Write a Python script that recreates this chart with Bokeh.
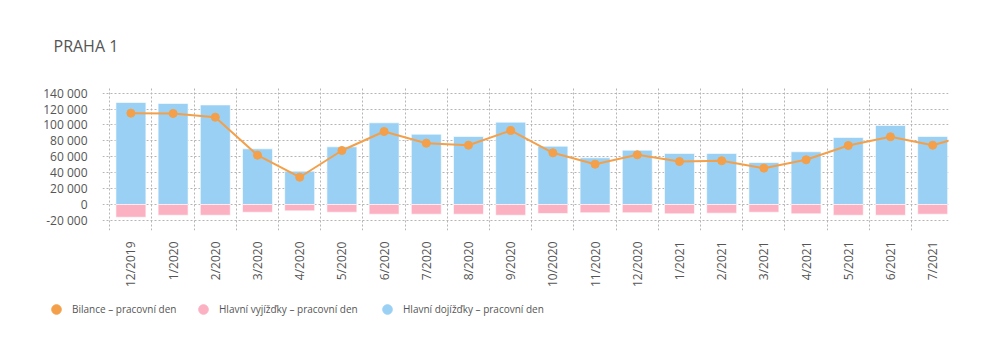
from bokeh.plotting import figure
from bokeh.layouts import column, row
from bokeh.models import (ColumnDataSource, Range1d, FixedTicker, Label, Legend, LegendItem)
from bokeh.embed import file_html
from bokeh.resources import INLINE

months = ["12/2019", "1/2020", "2/2020", "3/2020", "4/2020", "5/2020", "6/2020", "7/2020",
          "8/2020", "9/2020", "10/2020", "11/2020", "12/2020", "1/2021", "2/2021", "3/2021",
          "4/2021", "5/2021", "6/2021", "7/2021"]
dojizdky = [128300, 127000, 125200, 70000, 41900, 72500, 102700, 88400, 85500, 103500,
            73300, 58700, 68300, 64200, 64200, 52800, 66300, 84300, 99400, 85500]
vyjizdky = [-16000, -13500, -13500, -9700, -8000, -9700, -12200, -12200, -12200, -13500,
            -11300, -10400, -10400, -11700, -10900, -9700, -11700, -13500, -13500, -12200]
# balance incl. the next month (8/2021), which is clipped at the right edge
bilance = [114900, 114500, 109800, 62000, 34300, 67900, 91800, 77100, 74600, 93100,
           65000, 50700, 62500, 54100, 55000, 45700, 56200, 74200, 85200, 74600, 89400]
y_ticks = [-20000, 0, 20000, 40000, 60000, 80000, 100000, 120000, 140000]

FONT = "Open Sans"
BLUE = "#99d0f3"
PINK = "#fbb1c2"
ORANGE = "#f4a04a"
TXT = "#555555"

xs = list(range(len(months)))
bars = ColumnDataSource(dict(x=xs, top_in=dojizdky, top_out=vyjizdky))
line = ColumnDataSource(dict(x=list(range(len(bilance))), y=bilance))


def blank(height):
    f = figure(width=1000, height=height, output_backend="svg", toolbar_location=None,
               x_axis_type=None, y_axis_type=None, min_border=0,
               x_range=Range1d(-1000, -999), y_range=Range1d(-1e7, -0.9e7))
    f.outline_line_color = None
    f.xgrid.visible = False
    f.ygrid.visible = False
    return f


# ---- title strip
top = blank(70)
top.add_layout(Label(x=53, y=25, x_units="screen", y_units="screen", text="PRAHA 1",
                     text_font=FONT, text_font_size="16px", text_color=TXT,
                     text_baseline="middle", text_align="left"))

# ---- main chart
p = figure(width=1000, height=220, output_backend="svg", toolbar_location=None,
           x_range=Range1d(-0.673, 19.375), y_range=Range1d(-32700, 148400),
           min_border_left=102, min_border_right=52, min_border_top=16, min_border_bottom=60)
p.outline_line_color = None

p.vbar(x="x", top="top_in", bottom=0, width=0.71, source=bars, fill_color=BLUE,
       line_color="white", line_alpha=0.6, line_width=1)
p.vbar(x="x", top="top_out", bottom=0, width=0.71, source=bars, fill_color=PINK,
       line_color="white", line_alpha=0.6, line_width=1)
p.line(x="x", y="y", source=line, line_color=ORANGE, line_width=2)
p.scatter(x="x", y="y", source=line, size=8, fill_color=ORANGE, line_color=ORANGE)

p.xaxis.ticker = FixedTicker(ticks=xs)
p.xaxis.major_label_overrides = {i: m for i, m in enumerate(months)}
p.xaxis.major_label_orientation = 3.14159265 / 2
p.yaxis.ticker = FixedTicker(ticks=y_ticks)
p.yaxis.major_label_overrides = {t: f"{t:,}".replace(",", " ") for t in y_ticks}
for ax in (p.xaxis, p.yaxis):
    ax.axis_line_color = None
    ax.major_tick_line_color = None
    ax.minor_tick_line_color = None
    ax.major_tick_out = 0
    ax.major_tick_in = 0
    ax.major_label_text_font = FONT
    ax.major_label_text_font_size = "12px"
    ax.major_label_text_color = TXT
p.yaxis.major_label_standoff = 15
p.xaxis.major_label_standoff = 11

p.xgrid.ticker = FixedTicker(ticks=[i - 0.5 for i in range(len(months) + 1)])
p.ygrid.ticker = FixedTicker(ticks=y_ticks)
for g in (p.xgrid, p.ygrid):
    g.grid_line_color = "#b5b5b5"
    g.grid_line_dash = "2 2"
    g.grid_line_width = 1

# ---- legend strip (proxy renderers lie outside this strip's ranges, only legend shows)
leg = blank(64)
proxy_o = leg.scatter(x="x", y="y", source=line, size=11, fill_color=ORANGE, line_color=ORANGE)
proxy_p = leg.scatter(x="x", y="top_out", source=bars, size=11, fill_color=PINK, line_color=PINK)
proxy_b = leg.scatter(x="x", y="top_in", source=bars, size=11, fill_color=BLUE, line_color=BLUE)
entries = [("Bilance – pracovní den", proxy_o, 44),
           ("Hlavní vyjížďky – pracovní den", proxy_p, 191),
           ("Hlavní dojížďky – pracovní den", proxy_b, 375)]
for label, r, lx in entries:
    lg = Legend(items=[LegendItem(label=label, renderers=[r])], location=(lx, 33),
                orientation="horizontal", padding=0, margin=0, spacing=0,
                glyph_width=24, glyph_height=24, label_standoff=4,
                border_line_alpha=0, background_fill_alpha=0,
                label_text_font=FONT, label_text_font_size="10px",
                label_text_color=TXT)
    leg.add_layout(lg, "center")

layout = column(row(top), p, row(leg), spacing=0)
open("out.html", "w").write(file_html(layout, INLINE))
